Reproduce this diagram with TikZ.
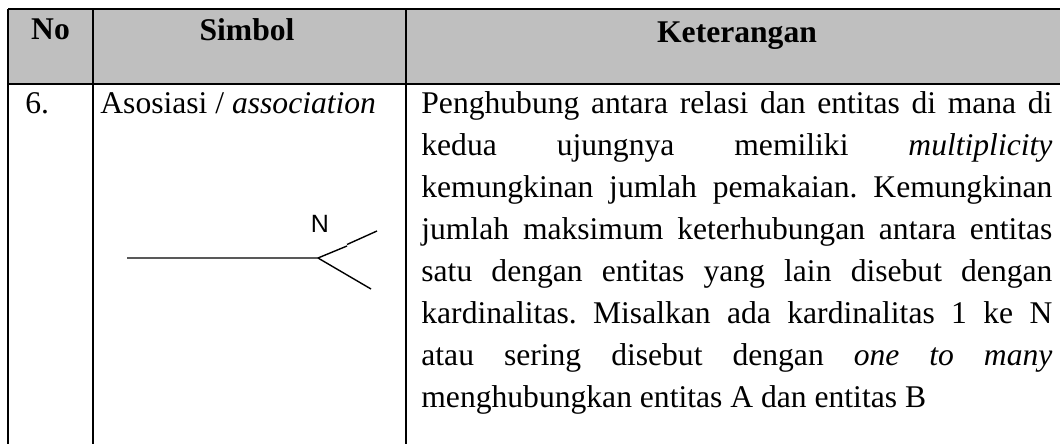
\documentclass[tikz,border=0pt]{standalone}
\usepackage{fontspec}
\setmainfont{Liberation Serif}
\newfontfamily\arialfont{Liberation Sans}
\usetikzlibrary{positioning}
\frenchspacing

\begin{document}
\begin{tikzpicture}[x=0.5pt, y=-0.5pt,
						grid/.style={draw, line width=1pt},
						head/.style={font=\fontsize{15.8}{21}\selectfont\bfseries, inner sep=0pt, anchor=base},
						cell/.style={font=\fontsize{15.8}{21.05}\selectfont, inner sep=0pt, anchor=base west},
						sym/.style={draw, line width=0.7pt}]
		\useasboundingbox (0,0) rectangle (1060,444);
		\fill[black!25] (8,9.5) rectangle (1060,84);

		% table rules
		\draw[grid] (8,9.5) -- (1060,9.5);
		\draw[grid] (8,84) -- (1060,84);
		\foreach \x in {8,93,406}
			\draw[grid] (\x,9.5) -- (\x,444);

		% header
		\node (h_no) [head] at (50.5,40) {No};
		\node (h_simbol) [head] at (247,41) {Simbol};
		\node (h_ket) [head] at (737,43) {Keterangan};

		% row
		\node (no) [cell] at (25,113) {6.};
		\node (simbol) [cell] at (100,113) {Asosiasi / \textit{association}};
		\node (ket) [cell, text width=315.5pt, align=justify] at (421,113)
			{\hyphenpenalty=10000 Penghubung antara relasi dan entitas di mana di\linebreak
			kedua ujungnya memiliki \textit{multiplicity}\linebreak
			kemungkinan jumlah pemakaian. Kemungkinan\linebreak
			jumlah maksimum keterhubungan antara entitas\linebreak
			satu dengan entitas yang lain disebut dengan\linebreak
			kardinalitas. Misalkan ada kardinalitas 1 ke N\linebreak
			atau sering disebut dengan \textit{one to many}\linebreak
			menghubungkan entitas A dan entitas B};

		% association symbol
		\coordinate (line_start) at (127,258);
		\coordinate (fork) at (318,258);
		\coordinate (jog_a) at (347,246);
		\coordinate (jog_b) at (347,244.5);
		\coordinate (upper_end) at (377,231);
		\coordinate (lower_end) at (371,289);
		\draw[sym] (line_start) -- (fork) -- (jog_a);
		\draw[sym] (jog_b) -- (upper_end);
		\draw[sym] (fork) -- (lower_end);
		\node (mult) [font=\arialfont\fontsize{12.5}{15}\selectfont, inner sep=0pt] at (320,224) {N};
	\end{tikzpicture}
\end{document}
